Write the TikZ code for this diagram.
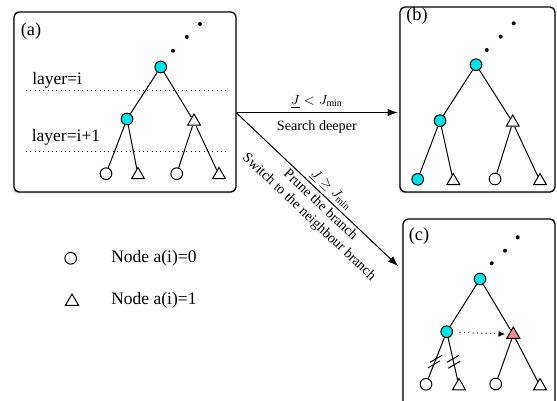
\documentclass[tikz,border=0pt]{standalone}
\usepackage{amsmath}
\usepackage{fontspec}
\setmainfont{Liberation Serif}
\usetikzlibrary{positioning,shapes.geometric,arrows.meta,fit,shadows}

\definecolor{visitcyan}{RGB}{0,228,234}
\definecolor{switchred}{RGB}{242,140,140}

\tikzset{
  zeronode/.style={circle, draw, fill=white, minimum size=7pt, inner sep=0pt, line width=0.6pt},
  onenode/.style={regular polygon, regular polygon sides=3, draw, fill=white, minimum size=9pt, inner sep=0pt, line width=0.6pt},
  visited/.style={fill=visitcyan},
  switched/.style={fill=switchred},
  dotnode/.style={circle, fill=black, minimum size=2.4pt, inner sep=0pt},
  edge/.style={line width=0.6pt},
  panel/.style={draw, rounded corners=3pt, line width=0.8pt, fill=white, inner sep=0pt,
    drop shadow={shadow xshift=-0.7pt, shadow yshift=-0.9pt, opacity=0.35}},
  arr/.style={-{Latex[length=6pt,width=4.5pt]}, line width=0.6pt},
  lbl/.style={font=\fontsize{8.5}{10}\selectfont, inner sep=1.5pt},
  txt/.style={font=\fontsize{10.5}{12}\selectfont, anchor=west, inner sep=0pt}
}

\begin{document}
\begin{tikzpicture}[x=0.6pt, y=-0.6pt]
\useasboundingbox (0,0) rectangle (557,401);

% panels
\node[panel, fit={(14,12) (236,192)}] (pa) {};
\node[panel, fit={(400,7) (555,192)}] (pb) {};
\node[panel, fit={(403,219) (555,430)}] (pc) {};

\node[txt, font=\fontsize{11}{13}\selectfont] (la) at (20.5,31) {(a)};
\node[txt, font=\fontsize{11}{13}\selectfont] (lb) at (406,16) {(b)};
\node[txt, font=\fontsize{11}{13}\selectfont] (lc) at (408.5,236) {(c)};

% layers
\draw[dotted, line width=0.6pt] (26,90.7) -- (229,90.7);
\draw[dotted, line width=0.6pt] (26,151.7) -- (229,151.7);
\node[txt] (layer1) at (32,80) {layer=i};
\node[txt] (layer2) at (31.5,137) {layer=i+1};

% tree (a)
\node[dotnode] (a-d1) at (173,50.7) {};
\node[dotnode] (a-d2) at (186.7,37) {};
\node[dotnode] (a-d3) at (200,24) {};
\node[zeronode, visited] (a-root) at (160.7,67) {};
\node[zeronode, visited] (a-l) at (127,119) {};
\node[onenode] (a-r) at (194,121.5) {};
\node[zeronode] (a-ll) at (106,173.7) {};
\node[onenode] (a-lr) at (138,175) {};
\node[zeronode] (a-rl) at (176.7,173.7) {};
\node[onenode] (a-rr) at (219,175) {};

% tree (b)
\node[dotnode] (b-d1) at (486.7,50) {};
\node[dotnode] (b-d2) at (500.7,36.7) {};
\node[dotnode] (b-d3) at (513.7,23.3) {};
\node[zeronode, visited] (b-root) at (476,64.7) {};
\node[zeronode, visited] (b-l) at (440,120.7) {};
\node[onenode] (b-r) at (512.7,122.5) {};
\node[zeronode, visited] (b-ll) at (417.7,179.3) {};
\node[onenode] (b-lr) at (453.3,181) {};
\node[zeronode] (b-rl) at (495,179) {};
\node[onenode] (b-rr) at (540,181) {};

% tree (c)
\node[dotnode] (c-d1) at (491.7,263.3) {};
\node[dotnode] (c-d2) at (505,250.7) {};
\node[dotnode] (c-d3) at (517.7,237.3) {};
\node[zeronode, visited] (c-root) at (480,279) {};
\node[zeronode, visited] (c-l) at (446.7,331.7) {};
\node[onenode, switched] (c-r) at (513.3,334.5) {};
\node[zeronode] (c-ll) at (426,384.3) {};
\node[onenode] (c-lr) at (459,386) {};
\node[zeronode] (c-rl) at (495.7,384) {};
\node[onenode] (c-rr) at (540,386) {};

\foreach \t in {a,b,c} {
  \draw[edge] (\t-root) -- (\t-l);
  \draw[edge] (\t-root) -- (\t-r);
  \draw[edge] (\t-l) -- (\t-ll);
  \draw[edge] (\t-l) -- (\t-lr);
  \draw[edge] (\t-r) -- (\t-rl);
  \draw[edge] (\t-r) -- (\t-rr);
}

% pruned edges
\path (c-l) -- coordinate[pos=0.52] (cut1) coordinate[pos=0.66] (cut2) (c-ll);
\path (c-l) -- coordinate[pos=0.5] (cut3) coordinate[pos=0.64] (cut4) (c-lr);
\foreach \c in {cut1,cut2,cut3,cut4}
  \draw[edge] ([shift={(-6,3.5)}]\c) -- ([shift={(6,-3.5)}]\c);

% switch to neighbour
\draw[dotted, line width=0.6pt, -{Latex[length=4pt,width=3.5pt]}, shorten <=4pt, shorten >=2pt] (c-l) -- (c-r);

% transitions
\coordinate (fork) at (236,112.5);
\coordinate (c-in) at (398,266);
\draw[arr] (fork) -- ([xshift=-1pt]pb.west |- fork)
  node[lbl, midway, above, yshift=1pt] {$\underline{J} < J_{\min}$}
  node[lbl, midway, below, yshift=-3pt] {Search deeper};
\draw[arr] (fork) -- (c-in)
  node[lbl, pos=0.55, sloped, above] {$\underline{J} \geq J_{\min}$}
  node[lbl, pos=0.56, sloped, below, align=center, font=\fontsize{8.5}{10}\selectfont] {Prune the branch\\Switch to the neighbour branch};

% legend
\node[zeronode] (key0) at (70.7,258.3) {};
\node[onenode] (key1) at (72,301.5) {};
\node[txt] (key0text) at (111,258) {Node a(i)=0};
\node[txt] (key1text) at (111,300.5) {Node a(i)=1};
\end{tikzpicture}
\end{document}
